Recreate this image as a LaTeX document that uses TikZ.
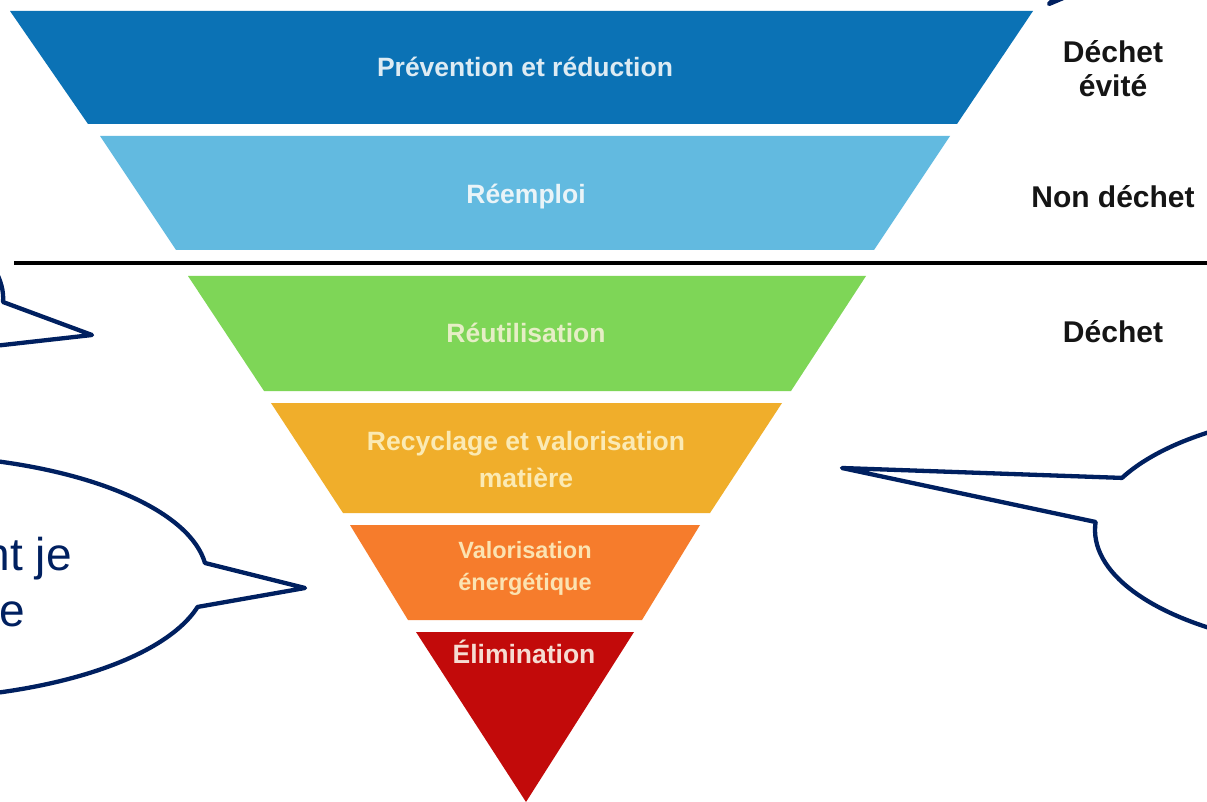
\documentclass[tikz,border=0pt]{standalone}
\usepackage{fontspec}
\setmainfont{Liberation Sans}
\definecolor{bandA}{HTML}{0B72B5}
\definecolor{bandB}{HTML}{62BAE0}
\definecolor{bandC}{HTML}{7ED657}
\definecolor{bandD}{HTML}{F0AE2B}
\definecolor{bandE}{HTML}{F67C2C}
\definecolor{bandF}{HTML}{C20A0A}
\definecolor{txtA}{HTML}{DDEBF3}
\definecolor{txtB}{HTML}{EAF4F8}
\definecolor{txtC}{HTML}{E6EEC6}
\definecolor{txtD}{HTML}{FBEAB4}
\definecolor{txtE}{HTML}{FBE3B2}
\definecolor{txtF}{HTML}{F6DCD2}
\definecolor{navy}{HTML}{002060}
\definecolor{sidegray}{HTML}{151515}
\begin{document}
\begin{tikzpicture}[x=1pt,y=-1pt,
  bandtext/.style={font=\bfseries\fontsize{26.5}{31}\selectfont, inner sep=0pt, anchor=base},
  smalltext/.style={font=\bfseries\fontsize{23.5}{28}\selectfont, inner sep=0pt, anchor=base},
  sidetext/.style={font=\bfseries\fontsize{30}{34}\selectfont, text=sidegray, inner sep=0pt, anchor=base},
  callout/.style={draw=navy, line width=4.3pt, fill=white, line join=round},
  callouttext/.style={font=\fontsize{46}{55}\selectfont, text=navy, inner sep=0pt, anchor=base east}]
\useasboundingbox (0,0) rectangle (1207,802);
\clip (0,0) rectangle (1207,802);
\fill[white] (0,0) rectangle (1207,802);
% funnel bands
\fill[bandA] (10,11) -- (1033,11) -- (957,124) -- (88,124) -- cycle;
\fill[bandB] (100,136) -- (950,136) -- (874,250) -- (176,250) -- cycle;
\fill[bandC] (188,276) -- (866,276) -- (791,391) -- (264,391) -- cycle;
\fill[bandD] (271,403) -- (782,403) -- (710,513) -- (343,513) -- cycle;
\fill[bandE] (350,525) -- (700,525) -- (642,620) -- (408,620) -- cycle;
\fill[bandF] (416,632) -- (634,632) -- (526,802) -- cycle;
% separator line
\coordinate (lineL) at (14,263);
\coordinate (lineR) at (1210,263);
\draw[line width=4.5pt, black] (lineL) -- (lineR);
% band labels
\node[bandtext, text=txtA] (prev) at (525,77) {Prévention et réduction};
\node[bandtext, text=txtB] (reem) at (526,204) {Réemploi};
\node[bandtext, text=txtC] (reut) at (526,342) {Réutilisation};
\node[bandtext, text=txtD] (recA) at (526,450) {Recyclage et valorisation};
\node[bandtext, text=txtD] (recB) at (526,487) {matière};
\node[smalltext, text=txtE] (valA) at (525,558) {Valorisation};
\node[smalltext, text=txtE] (valB) at (525,590) {énergétique};
\node[bandtext, text=txtF] (elim) at (524,663) {Élimination};
% side labels
\node[sidetext] (evA) at (1113,63) {Déchet};
\node[sidetext] (evB) at (1113,97) {évité};
\node[sidetext] (nond) at (1113,208) {Non déchet};
\node[sidetext] (dech) at (1113,342) {Déchet};
% callouts
\coordinate (tipA) at (92,335);
\draw[callout] (-6,268) .. controls (1,280) and (4,292) .. (3,302) -- (tipA) -- (-6,346);
\coordinate (tipB) at (305,588);
\draw[callout] (-100,577) ++(14.2:307 and 122)
  arc[start angle=14.2, end angle=353.4, x radius=307, y radius=122] -- (tipB) -- cycle;
\node[callouttext] (cbA) at (72,570) {nt je};
\node[callouttext] (cbB) at (25,626) {e};
\coordinate (tipC) at (842,468);
\draw[callout] (1372,530) ++(205.5:277 and 121)
  arc[start angle=205.5, end angle=543.8, x radius=277, y radius=121] -- (tipC) -- cycle;
\coordinate (tipD) at (1049,4);
\draw[callout, fill=navy] (1068,-4) -- (tipD) -- (1060,-8) -- cycle;
\end{tikzpicture}
\end{document}
